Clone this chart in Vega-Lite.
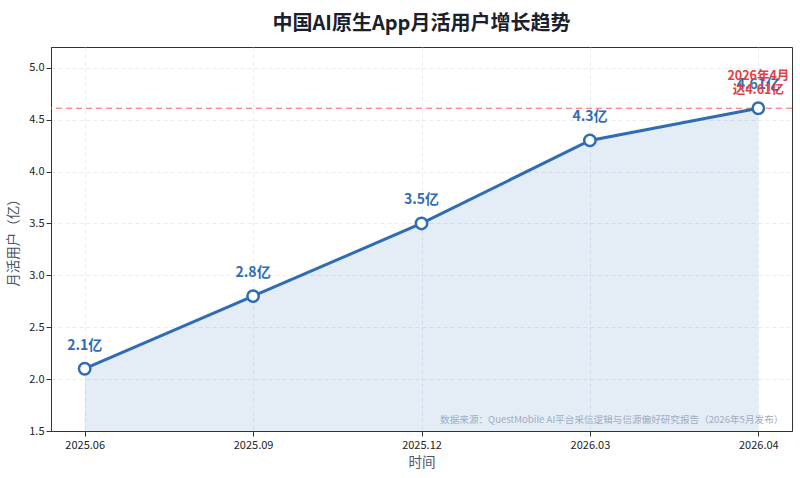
{
  "$schema": "https://vega.github.io/schema/vega-lite/v6.json",
  "width": 741,
  "height": 384,
  "autosize": {"type": "none"},
  "padding": {"left": 51, "top": 47, "right": 8, "bottom": 47},
  "background": "white",
  "title": {
    "text": "中国AI原生App月活用户增长趋势",
    "font": "Noto Sans CJK SC",
    "fontSize": 20,
    "fontWeight": "bold",
    "color": "#1a202c",
    "anchor": "middle",
    "offset": 13
  },
  "config": {
    "font": "Noto Sans CJK SC",
    "view": {"stroke": "#333333", "strokeWidth": 1},
    "axis": {
      "labelFont": "Noto Sans CJK SC",
      "titleFont": "Noto Sans CJK SC",
      "labelFontSize": 11,
      "labelColor": "#222222",
      "titleFontSize": 13.5,
      "titleFontWeight": "normal",
      "titleColor": "#4a5568",
      "domainColor": "#333333",
      "tickColor": "#333333",
      "gridColor": "#e2e8f0",
      "gridDash": [4, 3],
      "gridWidth": 0.8
    }
  },
  "data": {
    "values": [
      {"time": "2025.06", "users": 2.1, "label": "2.1亿"},
      {"time": "2025.09", "users": 2.8, "label": "2.8亿"},
      {"time": "2025.12", "users": 3.5, "label": "3.5亿"},
      {"time": "2026.03", "users": 4.3, "label": "4.3亿"},
      {"time": "2026.04", "users": 4.61, "label": "4.61亿"}
    ]
  },
  "encoding": {
    "x": {
      "field": "time",
      "type": "ordinal",
      "scale": {"type": "point", "padding": 0.2},
      "axis": {"title": "时间", "labelAngle": 0, "grid": true, "titlePadding": 5, "labelPadding": 3}
    },
    "y": {
      "field": "users",
      "type": "quantitative",
      "scale": {"domain": [1.5, 5.2], "zero": false, "nice": false},
      "axis": {"title": "月活用户（亿）", "values": [1.5, 2.0, 2.5, 3.0, 3.5, 4.0, 4.5, 5.0], "format": ".1f", "grid": true, "titlePadding": 8}
    }
  },
  "layer": [
    {
      "mark": {"type": "area", "color": "#2e6db4", "opacity": 0.13},
      "encoding": {"y2": {"datum": 1.5}}
    },
    {
      "mark": {"type": "rule", "color": "#f56565", "strokeDash": [6, 4], "strokeWidth": 1.2},
      "data": {"values": [{"v": 4.61}]},
      "encoding": {"y": {"field": "v", "type": "quantitative"}, "x": null}
    },
    {
      "mark": {"type": "line", "color": "#2e6db4", "strokeWidth": 3}
    },
    {
      "mark": {"type": "point", "filled": true, "fill": "white", "stroke": "#2e6db4", "strokeWidth": 2.5, "size": 130, "opacity": 1}
    },
    {
      "mark": {"type": "text", "color": "#2e6db4", "fontWeight": "bold", "fontSize": 14, "dy": -23, "baseline": "middle"},
      "encoding": {"text": {"field": "label"}}
    },
    {
      "mark": {"type": "text", "color": "#e53e3e", "fontWeight": "bold", "fontSize": 12.5, "baseline": "bottom", "dy": -25, "lineHeight": 14},
      "data": {"values": [{"time": "2026.04", "users": 4.61, "note": ["2026年4月", "达4.61亿"]}]},
      "encoding": {"text": {"field": "note"}}
    },
    {
      "mark": {"type": "text", "color": "#a0aec0", "fontSize": 9.6, "align": "right", "baseline": "middle", "dx": 25, "dy": -11},
      "data": {"values": [{"time": "2026.04", "users": 1.5, "src": "数据来源：QuestMobile AI平台采信逻辑与信源偏好研究报告（2026年5月发布）"}]},
      "encoding": {"text": {"field": "src"}}
    }
  ]
}
